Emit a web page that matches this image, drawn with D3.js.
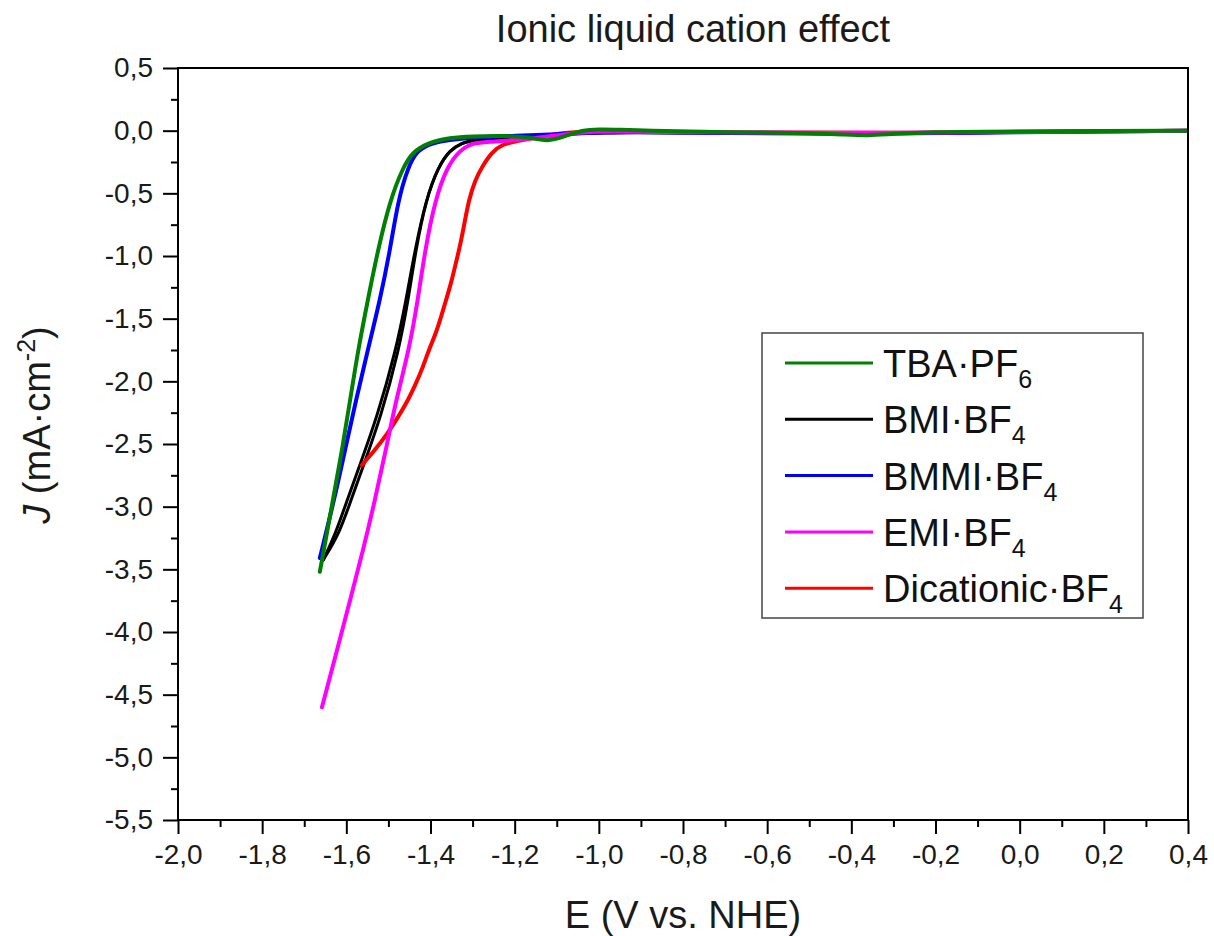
<!DOCTYPE html>
<html>
<head>
<meta charset="utf-8">
<script src="https://cdn.jsdelivr.net/npm/d3@7"></script>
<style>
  html, body { margin: 0; padding: 0; background: #fff; }
  svg { display: block; font-family: "Liberation Sans", Arial, sans-serif; }
</style>
</head>
<body>
<svg id="chart" width="1214" height="936"></svg>
<script>
// ---------------- data (E in V vs NHE, J in mA/cm2) ----------------
const seriesNames = ["TBA·PF", "BMI·BF", "BMMI·BF", "EMI·BF", "Dicationic·BF"];
const seriesSubs  = ["6", "4", "4", "4", "4"];
const seriesColors = ["#008000", "#000000", "#0000ff", "#ff00ff", "#ff0000"];

const tbaPF6 = [
  [-1.663,-3.52],[-1.646,-3.21],[-1.632,-2.947],[-1.610,-2.548],[-1.591,-2.149],
  [-1.572,-1.75],[-1.549,-1.351],[-1.525,-0.952],[-1.496,-0.553],[-1.465,-0.29],
  [-1.442,-0.17],[-1.408,-0.098],[-1.354,-0.055],[-1.300,-0.045],[-1.235,-0.04],
  [-1.164,-0.05],[-1.123,-0.09],[-1.080,-0.045],[-1.040,0.005],[-1.000,0.012],
  [-0.950,0.008],[-0.880,0.0],[-0.760,-0.01],[-0.600,-0.015],[-0.500,-0.02],
  [-0.420,-0.03],[-0.360,-0.04],[-0.300,-0.025],[-0.200,-0.012],[-0.100,-0.008],
  [0.100,-0.005],[0.400,0.0]
];
const bmiFwd = [
  [-1.655,-3.426],[-1.625,-3.21],[-1.598,-2.947],[-1.568,-2.668],[-1.527,-2.285],
  [-1.482,-1.75],[-1.458,-1.351],[-1.437,-0.952],[-1.411,-0.553],[-1.382,-0.29],
  [-1.354,-0.154],[-1.325,-0.098],[-1.299,-0.074],[-1.211,-0.05],[-1.116,-0.035],
  [-1.000,-0.012],[-0.800,-0.015],[-0.400,-0.03],[0.000,-0.01],[0.400,0.0]
];
const bmiRev = [
  [-1.655,-3.426],[-1.616,-3.21],[-1.589,-2.947],[-1.559,-2.668],[-1.518,-2.285],
  [-1.475,-1.75],[-1.453,-1.351],[-1.435,-0.952],[-1.411,-0.553],[-1.382,-0.29],
  [-1.354,-0.154],[-1.325,-0.098],[-1.299,-0.074],[-1.211,-0.05],[-1.116,-0.035],
  [-1.000,-0.012],[-0.800,-0.015],[-0.400,-0.03],[0.000,-0.01],[0.400,0.0]
];
const bmmiBF4 = [
  [-1.663,-3.41],[-1.629,-2.947],[-1.603,-2.548],[-1.577,-2.149],[-1.549,-1.75],
  [-1.520,-1.351],[-1.496,-0.952],[-1.477,-0.553],[-1.453,-0.29],[-1.432,-0.154],
  [-1.394,-0.098],[-1.361,-0.074],[-1.282,-0.05],[-1.200,-0.04],[-1.100,-0.03],
  [-1.000,-0.01],[-0.800,-0.015],[-0.400,-0.03],[0.000,-0.01],[0.400,0.0]
];
const emiBF4 = [
  [-1.658,-4.60],[-1.622,-4.144],[-1.591,-3.745],[-1.560,-3.346],[-1.532,-2.947],
  [-1.506,-2.548],[-1.482,-2.149],[-1.451,-1.75],[-1.430,-1.351],[-1.413,-0.952],
  [-1.389,-0.553],[-1.361,-0.29],[-1.330,-0.154],[-1.299,-0.098],[-1.266,-0.09],
  [-1.187,-0.074],[-1.092,-0.035],[-1.021,-0.003],[-0.900,-0.01],[-0.600,-0.015],
  [-0.300,-0.02],[0.000,-0.01],[0.400,0.0]
];
const dicatBF4 = [
  [-1.563,-2.668],[-1.532,-2.548],[-1.501,-2.412],[-1.477,-2.285],[-1.453,-2.149],
  [-1.434,-2.013],[-1.418,-1.886],[-1.404,-1.75],[-1.387,-1.615],[-1.375,-1.487],
  [-1.363,-1.351],[-1.351,-1.215],[-1.342,-1.088],[-1.332,-0.952],[-1.320,-0.753],
  [-1.309,-0.553],[-1.294,-0.394],[-1.278,-0.29],[-1.254,-0.17],[-1.228,-0.106],
  [-1.194,-0.082],[-1.156,-0.058],[-1.092,-0.019],[-1.021,-0.003],[-0.900,-0.01],
  [-0.600,-0.015],[-0.300,-0.02],[-0.080,-0.01],[0.400,0.0]
];

const xTicks = [-2.0,-1.8,-1.6,-1.4,-1.2,-1.0,-0.8,-0.6,-0.4,-0.2,0.0,0.2,0.4];
const xMinor = [-1.9,-1.7,-1.5,-1.3,-1.1,-0.9,-0.7,-0.5,-0.3,-0.1,0.1,0.3];
const yTicks = [0.5,0.0,-0.5,-1.0,-1.5,-2.0,-2.5,-3.0,-3.5,-4.0,-4.5,-5.0,-5.5];
const yMinor = [0.25,-0.25,-0.75,-1.25,-1.75,-2.25,-2.75,-3.25,-3.75,-4.25,-4.75,-5.25];

const titleText = "Ionic liquid cation effect";
const xTitle = "E (V vs. NHE)";

// ---------------- layout ----------------
const L = 178, R = 1188, T = 68, B = 820;
const svg = d3.select("#chart");
const x = d3.scaleLinear().domain([-2.0, 0.4]).range([L, R]);
const y = d3.scaleLinear().domain([-5.5, 0.5]).range([B, T]);
const fmt = v => (Math.abs(v) < 1e-9 ? 0 : v).toFixed(1).replace(".", ",");

svg.append("defs").append("clipPath").attr("id", "clip")
  .append("rect").attr("x", L).attr("y", T).attr("width", R - L).attr("height", B - T);

// curves
const line = d3.line().x(d => x(d[0])).y(d => y(d[1])).curve(d3.curveBasis);
const g = svg.append("g").attr("clip-path", "url(#clip)");
const draws = [
  [bmiFwd, seriesColors[1], 3],
  [bmiRev, seriesColors[1], 3],
  [dicatBF4, seriesColors[4], 4],
  [bmmiBF4, seriesColors[2], 4],
  [emiBF4, seriesColors[3], 4],
  [tbaPF6, seriesColors[0], 4]
];
draws.forEach(([data, col, w]) => {
  g.append("path").datum(data).attr("d", line)
    .attr("fill", "none").attr("stroke", col).attr("stroke-width", w)
    .attr("stroke-linejoin", "round").attr("stroke-linecap", "round");
});

// axes
const xAxis = d3.axisBottom(x).tickValues(xTicks).tickSize(14).tickPadding(10).tickFormat(fmt);
const xAxisMinor = d3.axisBottom(x).tickValues(xMinor).tickSize(7).tickFormat("");
const yAxis = d3.axisLeft(y).tickValues(yTicks).tickSize(15).tickPadding(10).tickFormat(fmt);
const yAxisMinor = d3.axisLeft(y).tickValues(yMinor).tickSize(7).tickFormat("");

function styleAxis(sel) {
  sel.select(".domain").remove();
  sel.selectAll(".tick line").attr("stroke", "#000").attr("stroke-width", 2);
  sel.selectAll(".tick text").attr("fill", "#1a1a1a")
    .style("font-size", "28px").style("font-family", "'Liberation Sans', Arial, sans-serif");
}
svg.append("g").attr("transform", `translate(0,${B})`).call(xAxis).call(styleAxis);
svg.append("g").attr("transform", `translate(0,${B})`).call(xAxisMinor).call(styleAxis);
svg.append("g").attr("transform", `translate(${L},0)`).call(yAxis).call(styleAxis);
svg.append("g").attr("transform", `translate(${L},0)`).call(yAxisMinor).call(styleAxis);

// frame
svg.append("rect").attr("x", L).attr("y", T).attr("width", R - L).attr("height", B - T)
  .attr("fill", "none").attr("stroke", "#000").attr("stroke-width", 2);

// title
svg.append("text").attr("x", 693).attr("y", 42).attr("text-anchor", "middle")
  .style("font-size", "38px").attr("fill", "#1a1a1a").text(titleText);

// x title
svg.append("text").attr("x", 683).attr("y", 928).attr("text-anchor", "middle")
  .style("font-size", "38px").attr("fill", "#1a1a1a").text(xTitle);

// y title
const yt = svg.append("text").attr("transform", "translate(50,425) rotate(-90)")
  .attr("text-anchor", "middle").style("font-size", "38px").attr("fill", "#1a1a1a");
yt.append("tspan").style("font-style", "italic").text("J");
yt.append("tspan").text(" (mA·cm");
yt.append("tspan").attr("dy", -15).style("font-size", "25px").text("-2");
yt.append("tspan").attr("dy", 15).text(")");

// legend
const lg = svg.append("g");
lg.append("rect").attr("x", 762).attr("y", 333).attr("width", 381).attr("height", 285)
  .attr("fill", "#fff").attr("stroke", "#444").attr("stroke-width", 1.5);
seriesNames.forEach((name, i) => {
  const cy = 363 + i * 56.3;
  lg.append("line").attr("x1", 785).attr("x2", 873).attr("y1", cy).attr("y2", cy)
    .attr("stroke", seriesColors[i]).attr("stroke-width", 3);
  const t = lg.append("text").attr("x", 883).attr("y", cy + 14)
    .style("font-size", "38px").attr("fill", "#111");
  t.append("tspan").text(name);
  t.append("tspan").attr("dy", 11).style("font-size", "25px").text(seriesSubs[i]);
});
</script>
</body>
</html>
